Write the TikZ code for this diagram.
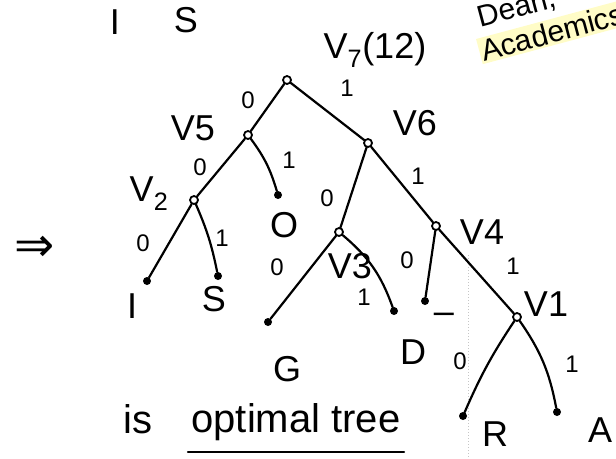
\documentclass[tikz,border=0pt]{standalone}
\usepackage{fontspec}
\setmainfont{Liberation Sans}
\newfontfamily\symfont{DejaVu Sans}
\begin{document}
\begin{tikzpicture}[x=1pt, y=-1pt,
  vtx/.style={circle, draw, line width=1.8pt, inner sep=0pt, minimum size=8pt},
  leaf/.style={circle, fill, inner sep=0pt, minimum size=8pt},
  edge/.style={line width=2.2pt, line cap=round},
  lbl/.style={font=\fontsize{36}{38}\selectfont},
  bit/.style={font=\fontsize{24}{26}\selectfont},
  note/.style={font=\fontsize{40}{42}\selectfont},
  stamp/.style={rotate=15, anchor=base west, inner sep=2pt, font=\fontsize{30}{32}\selectfont},
]
\useasboundingbox (0,0) rectangle (616,458);
\clip (0,0) rectangle (616,458);
% stamp in the corner
\node[stamp] (dean) at (478,28) {Dean,};
\node[stamp, fill=yellow!22] (acad) at (482,62) {Academics};
% faint scan line
\draw[gray!45, dotted, line width=1pt] (468,255)--(468,458);
% letters kept aside
\node[lbl] (topI) at (115,22) {I};
\node[lbl] (topS) at (186,20) {S};
% tree vertices
\node[vtx] (v7) at (287,80)  {};
\node[vtx] (v5) at (248,135) {};
\node[vtx] (v6) at (368,143) {};
\node[vtx] (v2) at (194,200) {};
\node[vtx] (v3) at (339,232) {};
\node[vtx] (v4) at (436,226) {};
\node[vtx] (v1) at (517,317) {};
% leaves
\node[leaf] (lo) at (278,195) {};
\node[leaf] (li) at (147,281) {};
\node[leaf] (ls) at (218,276) {};
\node[leaf] (lg) at (268,322) {};
\node[leaf] (ld) at (394,311) {};
\node[leaf] (lu) at (425,301) {};
\node[leaf] (lr) at (463,416) {};
\node[leaf] (la) at (557,412) {};
% edges
\draw[edge] (v7)--(v5); \draw[edge] (v7)--(v6);
\draw[edge] (v5)--(v2); \draw[edge] (v5) to[bend left=10] (lo);
\draw[edge] (v2)--(li); \draw[edge] (v2) to[bend left=6] (ls);
\draw[edge] (v6)--(v3); \draw[edge] (v6)--(v4);
\draw[edge] (v3)--(lg); \draw[edge] (v3) to[bend left=15] (ld);
\draw[edge] (v4)--(lu); \draw[edge] (v4)--(v1);
\draw[edge] (v1) to[bend right=5] (lr); \draw[edge] (v1) to[bend left=12] (la);
% vertex names
\node[lbl] (n7) at (375,50)  {V\textsubscript{7}(12)};
\node[lbl] (n5) at (193,128) {V5};
\node[lbl] (n6) at (415,123) {V6};
\node[lbl] (n2) at (149,194) {V\textsubscript{2}};
\node[lbl] (n3) at (350,266) {V3};
\node[lbl] (n4) at (482,232) {V4};
\node[lbl] (n1) at (546,304) {V1};
% leaf symbols
\node[lbl] (ti) at (132,306) {I};
\node[lbl] (ts) at (214,299) {S};
\node[lbl] (to) at (284,225) {O};
\node[lbl] (tg) at (287,369) {G};
\node[lbl] (td) at (413,352) {D};
\node[lbl] (tu) at (444,318) {--};
\node[lbl] (tr) at (495,434) {R};
\node[lbl] (ta) at (600,430) {A};
% bits
\node[bit] at (248,100) {0}; \node[bit] at (347,88)  {1};
\node[bit] at (200,167) {0}; \node[bit] at (289,160) {1};
\node[bit] at (143,243) {0}; \node[bit] at (222,238) {1};
\node[bit] at (327,198) {0}; \node[bit] at (418,176) {1};
\node[bit] at (277,267) {0}; \node[bit] at (364,297) {1};
\node[bit] at (407,260) {0}; \node[bit] at (513,266) {1};
\node[bit] at (460,361) {0}; \node[bit] at (572,364) {1};
% conclusion
\node[font=\symfont\fontsize{48}{50}\selectfont] (impl) at (35,249) {⇒};
\node[note, anchor=base] (is) at (138,433) {is};
\node[note, anchor=base] (opt) at (296,432) {optimal tree};
\draw[edge] ([yshift=-8pt]opt.south west)--([yshift=-8pt]opt.south east);
\end{tikzpicture}
\end{document}
